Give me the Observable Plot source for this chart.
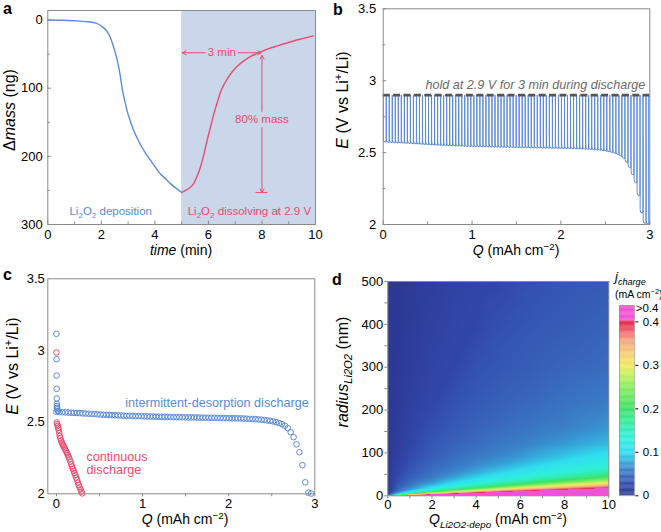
<!DOCTYPE html>
<html><head><meta charset="utf-8">
<script src="https://cdn.jsdelivr.net/npm/d3@7"></script>
<script src="https://cdn.jsdelivr.net/npm/@observablehq/plot@0.6"></script>
<style>
body{margin:0;background:#fff;}
#fig{position:relative;width:661px;height:532px;overflow:hidden;background:#fff;}
</style></head><body><div id="fig"></div>
<script>
const FONT = '"Liberation Sans", Arial, Helvetica, sans-serif';
const BLUE = "#5b8bd9", RED = "#ec4a6c", GRAY = "#8a8a8a", SHADE = "#cad6ea";

// ---------- panel a data ----------
const depTime = [0, 0.5, 1, 1.5, 1.8, 2.0, 2.2, 2.34, 2.46, 2.59, 2.7, 2.78, 2.87, 2.96, 3.08, 3.21, 3.36, 3.52, 3.68, 3.84, 4.02, 4.21, 4.4, 4.58, 4.8, 5.0];
const depMass = [0, 0.3, 1, 2.5, 4.5, 8.8, 16, 26, 40, 58, 80, 101, 118, 133, 148, 162, 175, 187, 197, 206, 216, 226, 233, 240, 247, 253];
const dissTime = [5.0, 5.15, 5.3, 5.45, 5.58, 5.7, 5.83, 5.95, 6.08, 6.2, 6.33, 6.45, 6.62, 6.82, 7.05, 7.32, 7.6, 7.95, 8.25, 8.57, 8.9, 9.19, 9.55, 9.91];
const dissMass = [253, 250, 246, 240, 229, 216, 197, 177, 157, 138, 121, 106, 92, 79.5, 69, 60, 53, 46.8, 42, 38, 34, 30.7, 27, 23.4];
const holdWindow = [{start: 5, end: 10}];
const arrow3min = {y: 48, t0: 5, t1: 8, labelT: 6.5, label: "3 min"};
const arrow80 = {t: 8, m0: 253, m1: 52, labelM: 146, label: "80% mass"};
const aXTicks = [0, 2, 4, 6, 8, 10], aXMinor = [1, 3, 5, 7, 9];
const aYTicks = [0, 100, 200, 300], aYMinor = [50, 150, 250];

// ---------- panel b / c data (one point per discharge cycle) ----------
const holdE = 2.9;
const cycleQ = [0.000,0.034,0.068,0.102,0.136,0.170,0.204,0.238,0.272,0.306,0.340,0.374,0.408,0.442,0.476,0.510,0.544,0.578,0.612,0.646,0.680,0.714,0.748,0.782,0.816,0.850,0.884,0.918,0.952,0.986,1.020,1.054,1.088,1.122,1.156,1.190,1.224,1.258,1.292,1.326,1.360,1.394,1.428,1.462,1.496,1.530,1.564,1.598,1.632,1.666,1.700,1.734,1.768,1.802,1.836,1.870,1.904,1.938,1.972,2.006,2.040,2.074,2.108,2.142,2.176,2.210,2.244,2.278,2.312,2.346,2.380,2.414,2.448,2.482,2.516,2.550,2.584,2.618,2.652,2.686,2.720,2.754,2.788,2.822,2.856,2.890,2.924,2.958,2.990];
const cycleE = [2.572,2.570,2.569,2.568,2.567,2.566,2.565,2.564,2.563,2.561,2.560,2.559,2.557,2.556,2.555,2.553,2.552,2.551,2.550,2.549,2.548,2.547,2.546,2.545,2.544,2.544,2.543,2.542,2.542,2.541,2.540,2.540,2.539,2.539,2.538,2.538,2.537,2.537,2.536,2.536,2.535,2.535,2.535,2.534,2.534,2.533,2.533,2.533,2.532,2.532,2.531,2.531,2.530,2.530,2.530,2.529,2.529,2.528,2.528,2.528,2.527,2.527,2.526,2.526,2.525,2.524,2.523,2.522,2.521,2.519,2.517,2.515,2.512,2.509,2.505,2.500,2.494,2.486,2.475,2.458,2.430,2.395,2.345,2.290,2.200,2.080,2.008,2.002,1.990];
const bXTicks = [0, 1, 2, 3], bXMinor = [0.5, 1.5, 2.5];
const bYTicks = [2, 2.5, 3, 3.5], bYMinor = [2.25, 2.75, 3.25];

// panel c extra points
const initQ = [0, 0.002, 0.002, 0.003, 0.004, 0.005, 0.006, 0.007, 0.010, 0.018];
const initE = [3.116, 2.939, 2.825, 2.732, 2.665, 2.628, 2.612, 2.600, 2.590, 2.578];
const contQ = [0, 0.004, 0.010, 0.015, 0.021, 0.027, 0.033, 0.039, 0.046, 0.054, 0.062, 0.070, 0.078, 0.085, 0.095, 0.105, 0.114, 0.124, 0.133, 0.143, 0.153, 0.163, 0.172, 0.182, 0.191, 0.200, 0.210, 0.220, 0.230, 0.240, 0.250, 0.260, 0.270, 0.280, 0.290, 0.300];
const contE = [2.986, 2.497, 2.485, 2.474, 2.460, 2.446, 2.425, 2.404, 2.388, 2.372, 2.358, 2.346, 2.338, 2.330, 2.318, 2.307, 2.295, 2.283, 2.270, 2.255, 2.240, 2.225, 2.207, 2.190, 2.175, 2.160, 2.145, 2.130, 2.113, 2.097, 2.078, 2.060, 2.045, 2.030, 2.015, 2.003];
const cXTicks = [0, 1, 2, 3], cXMinor = [0, 0.5, 1, 1.5, 2, 2.5, 3];
const cYTicks = [2, 2.5, 3, 3.5];

// ---------- panel d data ----------
const qCols = [0, 0.5, 1, 2, 3, 4, 5, 6, 7, 8, 9, 10];
const radiusRows = [0, 3, 6, 10, 15, 20, 26, 33, 42, 55, 70, 90, 120, 160, 220, 300, 400, 500];
const jGrid = [
 [0.1, 0.35, 0.5, 0.6, 0.6, 0.6, 0.6, 0.6, 0.6, 0.6, 0.6, 0.6],
 [0, 0.15, 0.3, 0.44, 0.5, 0.525, 0.54, 0.55, 0.557, 0.56, 0.567, 0.57],
 [0, 0.085, 0.15, 0.3, 0.385, 0.44, 0.476, 0.5, 0.514, 0.525, 0.533, 0.54],
 [0, 0.056, 0.101, 0.18, 0.276, 0.34, 0.385, 0.421, 0.448, 0.47, 0.487, 0.5],
 [0, 0.045, 0.07, 0.125, 0.18, 0.247, 0.3, 0.34, 0.372, 0.399, 0.421, 0.44],
 [0, 0.0395, 0.056, 0.101, 0.137, 0.18, 0.231, 0.276, 0.311, 0.34, 0.365, 0.385],
 [0, 0.0335, 0.0494, 0.08, 0.113, 0.14, 0.172, 0.211, 0.249, 0.282, 0.309, 0.332],
 [0, 0.0295, 0.0434, 0.0658, 0.093, 0.118, 0.138, 0.16, 0.192, 0.223, 0.252, 0.279],
 [0, 0.0245, 0.0384, 0.0549, 0.075, 0.097, 0.116, 0.13, 0.15, 0.17, 0.192, 0.219],
 [0, 0.0192, 0.0326, 0.0478, 0.061, 0.076, 0.093, 0.108, 0.12, 0.132, 0.148, 0.16],
 [0, 0.0168, 0.0284, 0.0423, 0.052, 0.063, 0.075, 0.088, 0.101, 0.112, 0.122, 0.13],
 [0, 0.0136, 0.0228, 0.0368, 0.045, 0.053, 0.0616, 0.07, 0.081, 0.091, 0.101, 0.11],
 [0, 0.0088, 0.0184, 0.0312, 0.0395, 0.045, 0.0516, 0.056, 0.064, 0.07, 0.078, 0.085],
 [0, 0.0066, 0.0152, 0.0256, 0.033, 0.0395, 0.0439, 0.0486, 0.053, 0.056, 0.062, 0.067],
 [0, 0.0042, 0.0104, 0.0192, 0.0275, 0.0326, 0.0373, 0.0413, 0.0442, 0.048, 0.051, 0.054],
 [0, 0.0026, 0.007, 0.016, 0.02, 0.027, 0.0312, 0.034, 0.0379, 0.0409, 0.043, 0.045],
 [0, 0.0018, 0.005, 0.012, 0.0174, 0.02, 0.0256, 0.0293, 0.032, 0.034, 0.037, 0.0395],
 [0, 0.001, 0.003, 0.008, 0.0146, 0.018, 0.02, 0.0247, 0.028, 0.0305, 0.0324, 0.034]
];
const dXTicks = [0, 2, 4, 6, 8, 10], dXMinor = [0,1,2,3,4,5,6,7,8,9,10];
const dYTicks = [0, 100, 200, 300, 400, 500], dYMinor = [0,50,100,150,200,250,300,350,400,450,500];
const cbTicks = [0, 0.1, 0.2, 0.3, 0.4];
const cbTop = 0.437;
const cbOver = {label: ">0.4", value: 0.431};
const colorStops = [0, 0.02, 0.04, 0.06, 0.08, 0.1, 0.13, 0.17, 0.2, 0.25, 0.28, 0.3, 0.33, 0.355, 0.375, 0.392, 0.4, 0.4001, 1];
const colorRange = ["#2d3894", "#3147a8", "#3864bb", "#3a86cb", "#34b2df", "#30def0", "#2ff0dc", "#33eb98", "#3ee065", "#8cee5e", "#c8f060", "#f4e662", "#f5c874", "#f3a482", "#ef6a72", "#e5304a", "#e5304a", "#f052d4", "#f052d4"];

// ---------- helpers ----------
const baseStyle = {fontFamily: FONT, fontSize: "13px", background: "transparent", overflow: "visible", color: "#000"};
const fmt = d => String(d);
const tx = (vals, fh, len, inward) => Plot.ruleX(vals, inward ? {stroke: GRAY, insetTop: fh - len} : {stroke: GRAY, insetTop: fh, insetBottom: -len});
const ty = (vals, fw, len, inward) => Plot.ruleY(vals, inward ? {stroke: GRAY, insetRight: fw - len} : {stroke: GRAY, insetRight: fw, insetLeft: -len});
const fig = document.getElementById("fig");
function place(svg, left, top) {
  svg.style.position = "absolute"; svg.style.left = left + "px"; svg.style.top = top + "px";
  svg.style.maxWidth = "none";
  fig.appendChild(svg);
  return svg;
}
function richify(textEl, parts, size) {
  while (textEl.firstChild) textEl.removeChild(textEl.firstChild);
  let shift = 0;
  for (const p of parts) {
    const s = typeof p === "string" ? {t: p} : p;
    const target = s.sub ? size * 0.28 : s.sup ? -size * 0.38 : 0;
    const ts = document.createElementNS("http://www.w3.org/2000/svg", "tspan");
    ts.textContent = s.t;
    ts.setAttribute("dy", (target - shift).toFixed(2));
    shift = target;
    if (s.sub || s.sup) ts.setAttribute("font-size", (size * 0.7).toFixed(2));
    if (s.i) ts.setAttribute("font-style", "italic");
    textEl.appendChild(ts);
  }
}
function fixLi(svg, size) {
  svg.querySelectorAll("text").forEach(el => {
    const s = el.textContent;
    if (s.startsWith("Li2O2")) richify(el, ["Li", {t: "2", sub: 1}, "O", {t: "2", sub: 1}, s.slice(5)], size);
  });
}

// ---------- panel a ----------
{
  const W = 330, H = 266, ml = 47.3, mr = 15, mt = 10, mb = 42;
  const fw = W - ml - mr, fh = H - mt - mb;
  const dep = depTime.map((t, i) => ({t, m: depMass[i]}));
  const diss = dissTime.map((t, i) => ({t, m: dissMass[i]}));
  const half = 0.62, gap = 12;
  const segs = [
    {x1: arrow3min.labelT - half, x2: arrow3min.t0 + 0.03, y1: arrow3min.y, y2: arrow3min.y},
    {x1: arrow3min.labelT + half, x2: arrow3min.t1 - 0.03, y1: arrow3min.y, y2: arrow3min.y},
    {x1: arrow80.t, x2: arrow80.t, y1: arrow80.labelM - gap, y2: arrow80.m1},
    {x1: arrow80.t, x2: arrow80.t, y1: arrow80.labelM + gap, y2: arrow80.m0}
  ];
  const p = Plot.plot({
    width: W, height: H, marginLeft: ml, marginRight: mr, marginTop: mt, marginBottom: mb,
    style: baseStyle,
    x: {domain: [0, 10], ticks: aXTicks, tickSize: 0, tickPadding: 5, tickFormat: fmt, label: null},
    y: {domain: [-14, 300], reverse: true, ticks: aYTicks, tickSize: 0, tickPadding: 5, tickFormat: fmt, label: null},
    marks: [
      Plot.rect(holdWindow, {x1: "start", x2: "end", fill: SHADE}),
      Plot.line(dep, {x: "t", y: "m", stroke: BLUE, strokeWidth: 1.4, curve: "monotone-x"}),
      Plot.line(diss, {x: "t", y: "m", stroke: RED, strokeWidth: 1.4, curve: "monotone-x"}),
      Plot.arrow(segs, {x1: "x1", y1: "y1", x2: "x2", y2: "y2", stroke: RED, strokeWidth: 1, headLength: 6}),
      Plot.ruleY([arrow80.m0], {x1: arrow80.t - 0.22, x2: arrow80.t + 0.22, stroke: RED, strokeWidth: 1}),
      Plot.text([arrow3min], {x: "labelT", y: "y", text: "label", fill: RED, fontSize: 11.5}),
      Plot.text([arrow80], {x: "t", y: "labelM", text: "label", fill: RED, fontSize: 11.5}),
      Plot.text(["Li2O2 deposition"], {x: 2.35, y: 280, text: d => d, fill: BLUE, fontSize: 11.5}),
      Plot.text(["Li2O2 dissolving at 2.9 V"], {x: 7.53, y: 280, text: d => d, fill: RED, fontSize: 11.5}),
      tx(aXTicks, fh, 3.5, true), tx(aXMinor, fh, 2.5, true),
      ty(aYTicks, fw, 3.5, true), ty(aYMinor, fw, 2.5, true),
      Plot.frame({stroke: GRAY})
    ]
  });
  fixLi(p, 11.5);
  place(p, 0, 0);
}

// ---------- panel b ----------
{
  const W = 331, H = 266, ml = 52.7, mr = 11.7, mt = 8.3, mb = 42;
  const fw = W - ml - mr, fh = H - mt - mb;
  const path = [];
  cycleQ.forEach((q, i) => {
    const e = cycleE[i];
    const qn = i + 1 < cycleQ.length ? cycleQ[i + 1] : 3.0;
    path.push({Q: q, E: holdE});
    path.push({Q: q + 0.0015, E: e + 0.025});
    path.push({Q: q + 0.006, E: e + 0.006});
    path.push({Q: qn - 0.001, E: e});
  });
  const p = Plot.plot({
    width: W, height: H, marginLeft: ml, marginRight: mr, marginTop: mt, marginBottom: mb,
    style: baseStyle,
    x: {domain: [0, 3], ticks: bXTicks, tickSize: 0, tickPadding: 5, tickFormat: fmt, label: null},
    y: {domain: [2, 3.5], ticks: bYTicks, tickSize: 0, tickPadding: 7, tickFormat: fmt, label: null},
    marks: [
      Plot.line(path, {x: "Q", y: "E", stroke: BLUE, strokeWidth: 1, clip: true}),
      Plot.ruleY([holdE], {stroke: "#555", strokeWidth: 2.6, strokeDasharray: "7 3.4"}),
      Plot.text(["hold at 2.9 V for 3 min during discharge"], {x: 2.95, y: 2.967, text: d => d, textAnchor: "end", fontStyle: "italic", fill: "#6a6a6a", fontSize: 12.6}),
      tx(bXTicks, fh, 3.5, true), tx(bXMinor, fh, 2.5, true),
      ty(bYTicks, fw, 3.5, true), ty(bYMinor, fw, 2.5, true),
      Plot.frame({stroke: GRAY})
    ]
  });
  place(p, 330, 0);
}

// ---------- panel c ----------
{
  const W = 330, H = 266, ml = 47.3, mr = 15.7, mt = 12.3, mb = 38.7;
  const fw = W - ml - mr, fh = H - mt - mb;
  const cyc = cycleQ.map((q, i) => ({Q: q, E: cycleE[i]})).filter(d => d.E >= 1.995);
  const init = initQ.map((q, i) => ({Q: q, E: initE[i]}));
  const cont = contQ.map((q, i) => ({Q: q, E: contE[i]}));
  const p = Plot.plot({
    width: W, height: H, marginLeft: ml, marginRight: mr, marginTop: mt, marginBottom: mb,
    style: baseStyle,
    x: {domain: [-0.1, 3], ticks: cXTicks, tickSize: 0, tickPadding: 5, tickFormat: fmt, label: null},
    y: {domain: [2, 3.5], ticks: cYTicks, tickSize: 0, tickPadding: 3, tickFormat: fmt, label: null},
    marks: [
      Plot.dot(cont, {x: "Q", y: "E", r: 2.8, stroke: RED, strokeWidth: 1, fill: "none"}),
      Plot.dot(init, {x: "Q", y: "E", r: 2.8, stroke: BLUE, strokeWidth: 1, fill: "none"}),
      Plot.dot(cyc, {x: "Q", y: "E", r: 2.8, stroke: BLUE, strokeWidth: 1, fill: "none"}),
      Plot.text(["intermittent-desorption discharge"], {x: 0.80, y: 2.637, text: d => d, textAnchor: "start", fill: BLUE, fontSize: 12.6}),
      Plot.text(["continuous\ndischarge"], {x: 0.35, y: 2.211, text: d => d, textAnchor: "start", fill: RED, fontSize: 12.6, lineHeight: 1.0}),
      tx(cXMinor, fh, 3, false),
      Plot.frame({stroke: GRAY})
    ]
  });
  place(p, 0, 266);
}

// ---------- panel d ----------
const colorOpts = {type: "linear", domain: colorStops, range: colorRange, clamp: true};
{
  const W = 331, H = 266, ml = 57.3, mr = 52.7, mt = 15, mb = 36.7;
  const fw = W - ml - mr, fh = H - mt - mb;
  const pts = [];
  radiusRows.forEach((r, i) => qCols.forEach((q, k) => pts.push({Q: q, r, j: jGrid[i][k]})));
  const p = Plot.plot({
    width: W, height: H, marginLeft: ml, marginRight: mr, marginTop: mt, marginBottom: mb,
    style: baseStyle,
    color: colorOpts,
    x: {domain: [0, 10], ticks: dXTicks, tickSize: 0, tickPadding: 4, tickFormat: fmt, label: null},
    y: {domain: [0, 500], ticks: dYTicks, tickSize: 0, tickPadding: 4.5, tickFormat: fmt, label: null},
    marks: [
      Plot.raster(pts, {x: "Q", y: "r", fill: "j", interpolate: "barycentric"}),
      tx(dXMinor, fh, 3, false),
      ty(dYMinor, fw, 3, false),
      Plot.frame({stroke: GRAY})
    ]
  });
  place(p, 330, 266);
}
// colorbar
{
  const W = 49, H = 205, ml = 7, mr = 26.7, mt = 9.3, mb = 5.7;
  const vals = d3.range(0, cbTop, 0.002);
  const p = Plot.plot({
    width: W, height: H, marginLeft: ml, marginRight: mr, marginTop: mt, marginBottom: mb,
    style: {...baseStyle, fontSize: "11.5px"},
    color: colorOpts,
    x: {domain: [0, 1], axis: null},
    y: {domain: [0, cbTop], axis: "right", ticks: cbTicks, tickSize: 3, tickPadding: 5, tickFormat: d => d === 0 ? "0" : d.toFixed(1), label: null},
    marks: [
      Plot.rect(vals, {x1: 0, x2: 1, y1: d => d, y2: d => Math.min(cbTop, d + 0.0025), fill: d => d}),
      Plot.text([cbOver], {x: 1, y: "value", text: "label", textAnchor: "end", dx: 23.7, fontSize: 11.5}),
      Plot.frame({stroke: GRAY, strokeWidth: 0.6})
    ]
  });
  place(p, 612, 296);
}

// ---------- overlay: panel letters and axis titles ----------
const ov = d3.create("svg").attr("width", 661).attr("height", 532)
  .style("position", "absolute").style("left", "0px").style("top", "0px")
  .style("pointer-events", "none").style("font-family", FONT);
function addRich(o, parts) {
  const t = ov.append("text").attr("x", o.x).attr("y", o.y).attr("font-size", o.size)
    .attr("text-anchor", o.anchor || "middle").attr("fill", o.fill || "#000");
  if (o.weight) t.attr("font-weight", o.weight);
  if (o.rotate) t.attr("transform", `rotate(-90 ${o.x} ${o.y})`);
  richify(t.node(), parts, o.size);
}
const Qlabel = [{t: "Q", i: 1}, " (mAh cm", {t: "\u22122", sup: 1}, ")"];
const Elabel = [{t: "E", i: 1}, " (V vs Li", {t: "+", sup: 1}, "/Li)"];
addRich({x: 3, y: 13.5, size: 16, anchor: "start", weight: "bold"}, ["a"]);
addRich({x: 333, y: 15, size: 16, anchor: "start", weight: "bold"}, ["b"]);
addRich({x: 3, y: 280, size: 16, anchor: "start", weight: "bold"}, ["c"]);
addRich({x: 332, y: 285, size: 16, anchor: "start", weight: "bold"}, ["d"]);
addRich({x: 181, y: 255, size: 14}, [{t: "time", i: 1}, " (min)"]);
addRich({x: 15, y: 110, size: 16, rotate: true}, ["\u0394", {t: "mass", i: 1}, " (ng)"]);
addRich({x: 516, y: 255, size: 14}, Qlabel);
addRich({x: 348, y: 100, size: 16, rotate: true}, Elabel);
addRich({x: 185, y: 524, size: 14}, Qlabel);
addRich({x: 18, y: 366, size: 16, rotate: true}, Elabel);
addRich({x: 498, y: 524, size: 14}, [{t: "Q", i: 1}, {t: "Li2O2-depo", sub: 1, i: 1}, " (mAh cm", {t: "\u22122", sup: 1}, ")"]);
addRich({x: 348, y: 372, size: 16, rotate: true}, [{t: "radius", i: 1}, {t: "Li2O2", sub: 1, i: 1}, " (nm)"]);
addRich({x: 615, y: 281, size: 13, anchor: "start"}, [{t: "j", i: 1}, {t: "charge", sub: 1, i: 1}]);
addRich({x: 615, y: 297.5, size: 10.5, anchor: "start"}, ["(mA cm", {t: "\u22122", sup: 1}, ")"]);
fig.appendChild(ov.node());
</script></body></html>
